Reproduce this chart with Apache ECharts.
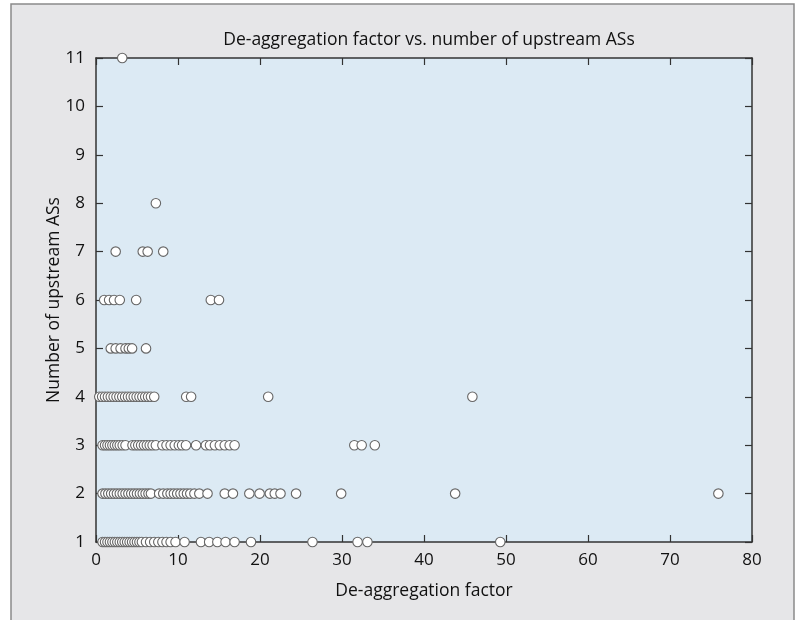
<!DOCTYPE html>
<html>
<head>
<meta charset="utf-8">
<script src="https://cdn.jsdelivr.net/npm/echarts@6/dist/echarts.min.js"></script>
<style>html,body{margin:0;padding:0;background:#fff;}#c{width:798px;height:620px;}</style>
</head>
<body>
<div id="c"></div>
<script>
const xTicks = [0, 10, 20, 30, 40, 50, 60, 70, 80];
const yTicks = [1, 2, 3, 4, 5, 6, 7, 8, 9, 10, 11];
const row1 = [0.8, 1.1, 1.4, 1.7, 2.0, 2.3, 2.6, 2.9, 3.2, 3.5, 3.8, 4.1, 4.4, 4.7, 5.0, 5.3, 5.6, 6.1, 6.6, 7.1, 7.6, 8.1, 8.6, 9.1, 9.7, 10.8, 12.8, 13.8, 14.8, 15.8, 16.9, 18.9, 26.4, 31.9, 33.1, 49.3];
const row2 = [0.8, 1.15, 1.5, 1.85, 2.2, 2.55, 2.9, 3.25, 3.6, 3.95, 4.3, 4.65, 5.0, 5.35, 5.7, 6.05, 6.4, 6.7, 7.7, 8.2, 8.7, 9.1, 9.5, 9.9, 10.3, 10.7, 11.1, 11.5, 12.0, 12.6, 13.6, 15.7, 16.7, 18.7, 19.95, 21.2, 21.8, 22.5, 24.4, 29.9, 43.8, 75.9];
const row3 = [0.8, 1.1, 1.4, 1.7, 2.0, 2.3, 2.6, 2.9, 3.25, 3.6, 4.45, 4.8, 5.15, 5.5, 5.85, 6.2, 6.55, 6.9, 7.3, 8.1, 8.6, 9.1, 9.6, 10.1, 10.5, 10.97, 12.2, 13.4, 13.9, 14.5, 15.1, 15.7, 16.3, 16.9, 31.5, 32.4, 34.0];
const row4 = [0.4, 0.75, 1.1, 1.45, 1.8, 2.15, 2.5, 2.85, 3.2, 3.55, 3.9, 4.25, 4.6, 4.95, 5.3, 5.65, 6.0, 6.35, 6.7, 7.1, 11.0, 11.6, 21.0, 45.9];
const row5 = [1.8, 2.4, 3.0, 3.6, 4.0, 4.4, 6.1];
const row6 = [1.0, 1.6, 2.2, 2.9, 4.9, 14.0, 15.0];
const row7 = [2.4, 5.7, 6.3, 8.2];
const row8 = [7.3];
const row11 = [3.2];
const rows = [[1, row1], [2, row2], [3, row3], [4, row4], [5, row5], [6, row6], [7, row7], [8, row8], [11, row11]];

const points = [];
rows.forEach(([y, xs]) => xs.forEach(x => points.push([x, y])));

const font = '"Open Sans", "Noto Sans", sans-serif';
const axisColor = '#333';
const tick = { show: true, inside: true, length: 7, lineStyle: { color: axisColor, width: 1.2 } };
const line = { show: true, onZero: false, lineStyle: { color: axisColor, width: 1.5 } };
const chart = echarts.init(document.getElementById('c'));
chart.setOption({
  backgroundColor: '#ffffff',
  animation: false,
  graphic: [{
    type: 'rect', z: -10, silent: true,
    shape: { x: 11, y: 4, width: 783, height: 630 },
    style: { fill: '#e6e6e8', stroke: '#8a8a8a', lineWidth: 1.5 }
  }],
  title: {
    text: 'De-aggregation factor vs. number of upstream ASs',
    left: 424, top: 26, textAlign: 'center',
    textStyle: { fontFamily: font, fontSize: 17.5, fontWeight: 'normal', color: '#111' }
  },
  grid: { left: 96, right: 46, top: 58, bottom: 78, show: true, backgroundColor: '#dceaf4', borderWidth: 0 },
  xAxis: [{
    type: 'value', position: 'bottom', min: xTicks[0], max: xTicks[xTicks.length - 1], interval: 10,
    name: 'De-aggregation factor', nameLocation: 'middle', nameGap: 40, nameMoveOverlap: false,
    nameTextStyle: { fontFamily: font, fontSize: 17.5, color: '#111' },
    axisLine: line, axisTick: tick,
    axisLabel: { fontFamily: font, fontSize: 17, color: '#111', margin: 10 },
    splitLine: { show: false }
  }, {
    type: 'value', position: 'top', min: xTicks[0], max: xTicks[xTicks.length - 1], interval: 10,
    axisLine: line, axisTick: tick,
    axisLabel: { show: false }, splitLine: { show: false }
  }],
  yAxis: [{
    type: 'value', position: 'left', min: yTicks[0], max: yTicks[yTicks.length - 1], interval: 1,
    name: 'Number of upstream ASs', nameLocation: 'middle', nameGap: 33, nameMoveOverlap: false,
    nameTextStyle: { fontFamily: font, fontSize: 17.5, color: '#111' },
    axisLine: line, axisTick: tick,
    axisLabel: { fontFamily: font, fontSize: 17, color: '#111', margin: 11 },
    splitLine: { show: false }
  }, {
    type: 'value', position: 'right', min: yTicks[0], max: yTicks[yTicks.length - 1], interval: 1,
    axisLine: line, axisTick: tick,
    axisLabel: { show: false }, splitLine: { show: false }
  }],
  series: [{
    type: 'scatter', xAxisIndex: 0, yAxisIndex: 0, clip: false,
    symbol: 'circle', symbolSize: 9.5,
    itemStyle: { color: '#ffffff', borderColor: '#666', borderWidth: 1.1, opacity: 1 },
    data: points
  }]
});
</script>
</body>
</html>
